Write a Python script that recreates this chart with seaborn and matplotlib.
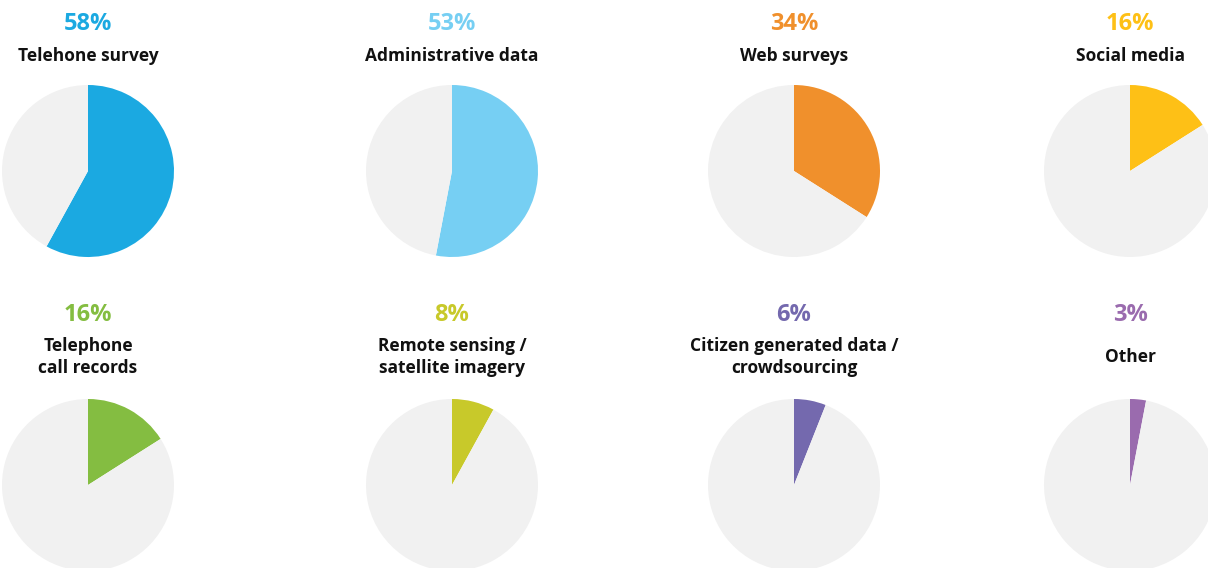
import matplotlib.pyplot as plt
import seaborn as sns

sns.set_theme(style="white")
plt.rcParams['font.family'] = ['Open Sans', 'DejaVu Sans']

# Data
categories = ["Telehone survey", "Administrative data", "Web surveys", "Social media",
              "Telephone\ncall records", "Remote sensing /\nsatellite imagery",
              "Citizen generated data /\ncrowdsourcing", "Other"]
shares = [58, 53, 34, 16, 16, 8, 6, 3]
colors = ["#1BA9E1", "#76CFF3", "#F0902C", "#FEC016",
          "#84BD41", "#C8C92A", "#7469AE", "#9A6BAE"]
rest_color = "#F1F1F1"

W, H = 1208, 568
fig = plt.figure(figsize=(W / 100, H / 100), dpi=100)

col_x = [88, 452, 794, 1130]
row_y = [171, 485]
pct_y = [24, 315]
lab_y = [56, 357]
r = 86

for i, (cat, val, col) in enumerate(zip(categories, shares, colors)):
    row, c = divmod(i, 4)
    cx, cy = col_x[c], row_y[row]
    ax = fig.add_axes([(cx - r) / W, 1 - (cy + r) / H, 2 * r / W, 2 * r / H])
    ax.pie([val, 100 - val], colors=[col, rest_color], startangle=90,
           counterclock=False, radius=1, wedgeprops=dict(linewidth=0))
    ax.set_xlim(-1, 1)
    ax.set_ylim(-1, 1)
    ax.set_aspect('equal')
    ax.axis('off')

    fig.text(cx / W, 1 - pct_y[row] / H, f"{val}%", color=col, fontsize=17,
             fontweight='bold', ha='center', va='center')
    fig.text(cx / W, 1 - lab_y[row] / H, cat, color='#111111', fontsize=12.5,
             fontweight='bold', ha='center', va='center', linespacing=1.3)

fig.savefig('out.png', dpi=100)
